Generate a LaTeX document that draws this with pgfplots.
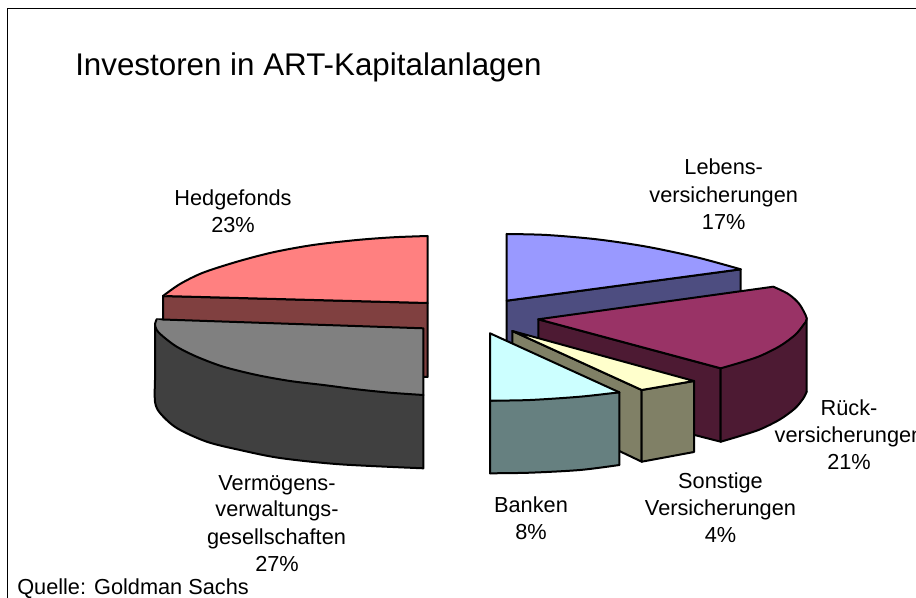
\documentclass[border=0pt]{standalone}
\usepackage{pgfplots}
\pgfplotsset{compat=1.18}
\usepackage{fontspec}
\setmainfont{Liberation Sans}
\definecolor{pinkT}{HTML}{FF8080}\definecolor{pinkS}{HTML}{804040}
\definecolor{greyT}{HTML}{808080}\definecolor{greyS}{HTML}{404040}
\definecolor{blueT}{HTML}{9999FF}\definecolor{blueS}{HTML}{4D4D80}
\definecolor{marT}{HTML}{993366}\definecolor{marS}{HTML}{4D1A33}
\definecolor{yelT}{HTML}{FFFFCC}\definecolor{yelS}{HTML}{808066}
\definecolor{cyaT}{HTML}{CCFFFF}\definecolor{cyaS}{HTML}{668080}
\tikzset{lab/.style={anchor=base,font=\fontsize{16.3}{20}\selectfont,inner sep=0pt}}
\pgfplotsset{slice/.style={draw=black,line width=1.5pt,line join=round,line cap=round,fill=#1},
  arc/.style={slice=#1,smooth,tension=0.5}}
% #1 colour, #2 curved edge A..B, #3 straight edges B..A
\newcommand\curved[3]{%
  \addplot[fill=#1,draw=none,forget plot] coordinates {#2 #3};
  \addplot[slice=#1,forget plot] coordinates {#3};
  \addplot[arc=#1,forget plot] coordinates {#2};
}
\begin{document}
\begin{tikzpicture}
\path[use as bounding box,clip] (0,0) rectangle (687pt,448.5pt);
\begin{axis}[at={(0,0)},anchor=south west,scale only axis,width=687pt,height=448.5pt,
  xmin=0,xmax=916,ymin=0,ymax=598,y dir=reverse,axis lines=none,clip=false]
\addplot[black,line width=0.75pt] coordinates {(7.5,598)(7.5,8.5)(916,8.5)};
% Hedgefonds
\addplot[slice=pinkS] coordinates {(163,296)(427.5,303)(427.5,377)(163,370)} -- cycle;
\curved{pinkT}{(427.5,236)(393,237.3)(357,240)(313,245)(273,252.3)(237,261.7)(203,272.7)(180,284)(163,296)}{(163,296)(427.5,303)(427.5,236)}
% Vermoegensverwaltung
\curved{greyS}{(155,380)(155,401.7)(160,413)(176.7,428)(206.7,441.7)(240,450)(280,458)(340,464.3)(423.3,468.3)}{(423.3,468.3)(423.3,395)(155,326)(155,380)}
\curved{greyT}{(423.3,395)(390,392.7)(356.7,389.3)(323.3,385)(290,381)(256.7,375)(223.3,366.7)(196.7,356.7)(176.7,346.7)(163.3,336.7)(156.7,330)(155,324)(156.7,319.3)}{(156.7,319.3)(423.3,328.3)(423.3,395)}
% Lebensversicherungen
\addplot[slice=blueS] coordinates {(506.7,300.7)(740.7,269.3)(740.7,300)(506.7,350)} -- cycle;
\curved{blueT}{(506.7,234)(546.7,235)(596.7,239.3)(646.7,246.7)(696.7,257.3)(740.7,269.3)}{(740.7,269.3)(506.7,300.7)(506.7,234)}
% Rueckversicherungen
\addplot[slice=marS] coordinates {(538.3,319.3)(720.7,368.3)(720.7,441.7)(538.3,395)} -- cycle;
\curved{marS}{(806.7,391.7)(803.3,398.4)(795,408.4)(780,419.4)(760,429.4)(740,436)(720.7,441.7)}{(720.7,441.7)(720.7,368.3)(806.7,318.3)(806.7,391.7)}
\curved{marT}{(773.3,286.7)(788.3,294)(799.3,304)(806.7,318.3)(803.3,325)(795,335)(780,346)(760,356)(740,362.7)(720.7,368.3)}{(720.7,368.3)(538.3,319.3)(773.3,286.7)}
% Sonstige
\addplot[slice=yelS] coordinates {(512.3,331)(641.7,390)(641.7,461.7)(512.3,400)} -- cycle;
\addplot[slice=yelS] coordinates {(641.7,390)(694,381)(694,452)(641.7,461.7)} -- cycle;
\addplot[slice=yelT] coordinates {(512.3,331)(694,381)(641.7,390)} -- cycle;
% Banken
\curved{cyaS}{(619.3,465)(580,470)(530,472.7)(490,473.3)}{(490,473.3)(490,400.7)(619.3,392.3)(619.3,465)}
\curved{cyaT}{(619.3,392.3)(580,396.7)(530,400)(490,400.7)}{(490,400.7)(490,333.3)(619.3,392.3)}
% Text
\node[anchor=base west,inner sep=0pt,font=\fontsize{23.5}{28}\selectfont] at (axis cs:75,76) {Investoren in ART-Kapitalanlagen};
\node[anchor=base west,inner sep=0pt,font=\fontsize{16.3}{20}\selectfont] at (axis cs:17,594) {Quelle: Goldman Sachs};
\node[lab] at (axis cs:233,206) {Hedgefonds};
\node[lab] at (axis cs:233,233) {23\%};
\node[lab] at (axis cs:723.7,175) {Lebens-};
\node[lab] at (axis cs:723.7,203) {versicherungen};
\node[lab] at (axis cs:723.7,230) {17\%};
\node[lab] at (axis cs:849,415) {Rück-};
\node[lab] at (axis cs:849,442) {versicherungen};
\node[lab] at (axis cs:849,469) {21\%};
\node[lab] at (axis cs:720.5,488) {Sonstige};
\node[lab] at (axis cs:720.5,515) {Versicherungen};
\node[lab] at (axis cs:720.5,542) {4\%};
\node[lab] at (axis cs:531,512) {Banken};
\node[lab] at (axis cs:531,539) {8\%};
\node[lab] at (axis cs:277,490) {Vermögens-};
\node[lab] at (axis cs:277,516) {verwaltungs-};
\node[lab] at (axis cs:276.5,544) {gesellschaften};
\node[lab] at (axis cs:277,571) {27\%};
\end{axis}
\end{tikzpicture}
\end{document}
